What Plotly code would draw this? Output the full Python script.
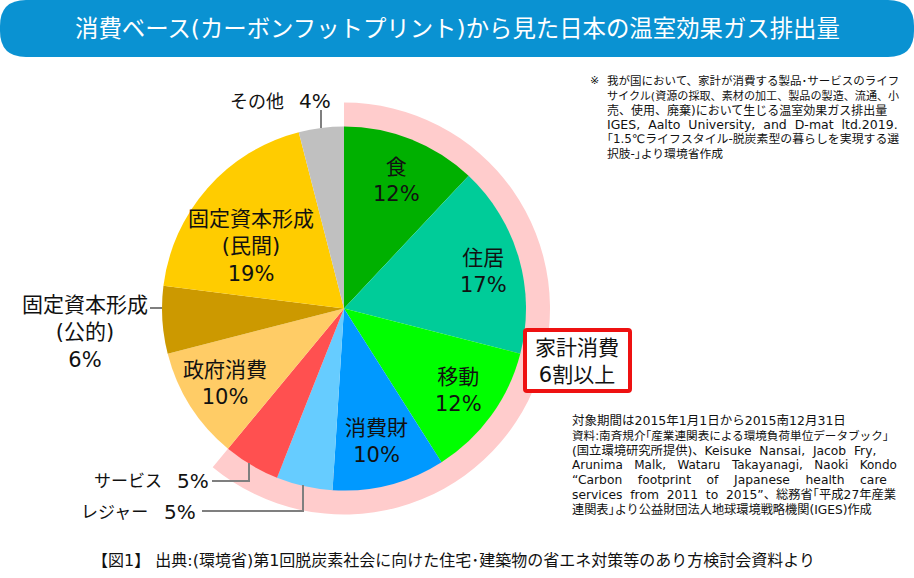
import plotly.graph_objects as go

W, H = 914, 578
FONT = "DejaVu Sans, Noto Sans CJK JP"

categories = ["食", "住居", "移動", "消費財", "レジャー", "サービス", "政府消費",
              "固定資本形成(公的)", "固定資本形成(民間)", "その他"]
shares = [12, 17, 12, 10, 5, 5, 10, 6, 19, 4]
slice_colors = ["#00b000", "#00cc99", "#00ff00", "#0099ff", "#66ccff", "#ff5050",
                "#ffcc66", "#cc9900", "#ffcc00", "#c0c0c0"]

ring_labels = ["家計消費", "それ以外"]
ring_shares = [61, 39]

title_text = "消費ベース(カーボンフットプリント)から見た日本の温室効果ガス排出量"
note_lines = [
    "我が国において、家計が消費する製品･サービスのライフ",
    "サイクル(資源の採取、素材の加工、製品の製造、流通、小",
    "売、使用、廃棄)において生じる温室効果ガス排出量",
    "IGES,  Aalto  University,  and  D-mat  ltd.2019.",
    "｢1.5℃ライフスタイル-脱炭素型の暮らしを実現する選",
    "択肢-｣より環境省作成",
]
source_lines = [
    "対象期間は2015年1月1日から2015南12月31日",
    "資料:南斉規介｢産業連関表による環境負荷単位データブック｣",
    "(国立環境研究所提供)、Keisuke  Nansai,  Jacob  Fry,",
    "Arunima   Malk,   Wataru   Takayanagi,   Naoki   Kondo",
    "“Carbon    footprint    of    Japanese    health    care",
    "services  from  2011  to  2015”、総務省｢平成27年産業",
    "連関表｣より公益財団法人地球環境戦略機関(IGES)作成",
]
caption = "【図1】 出典:(環境省)第1回脱炭素社会に向けた住宅･建築物の省エネ対策等のあり方検討会資料より"

# the original text block is justified, so each line gets its own font size
note_sizes = [11.5, 11.1, 12, 12.5, 11.9, 11.8]
source_sizes = [12.5, 11.6, 12.3, 12, 12.3, 12.3, 12.2]


def px(x):
    return x / W


def py(y):
    return 1 - y / H


def domain(cx, cy, r):
    return dict(x=[px(cx - r), px(cx + r)], y=[py(cy + r), py(cy - r)])


def label(x, y, text, size=21, color="#111111", anchor="center"):
    return dict(x=px(x), y=py(y), xref="paper", yref="paper", text=text, showarrow=False,
                xanchor=anchor, yanchor="middle", align=anchor,
                font=dict(family=FONT, size=size, color=color))


def line(points):
    path = "M " + " L ".join(f"{px(a)} {py(b)}" for a, b in points)
    return dict(type="path", path=path, xref="paper", yref="paper",
                line=dict(color="#7f7f7f", width=2))


def rounded(x0, y0, x1, y1, r):
    a, b, c, d = px(x0), py(y0), px(x1), py(y1)
    rx, ry = r / W, r / H
    return (f"M {a + rx} {b} L {c - rx} {b} Q {c} {b} {c} {b - ry} L {c} {d + ry} Q {c} {d} {c - rx} {d} "
            f"L {a + rx} {d} Q {a} {d} {a} {d + ry} L {a} {b - ry} Q {a} {b} {a + rx} {b} Z")


fig = go.Figure()

fig.add_trace(go.Pie(
    labels=ring_labels, values=ring_shares, sort=False, direction="clockwise", rotation=0,
    domain=domain(344, 308.5, 206), hole=0.8,
    marker=dict(colors=["#ffcccc", "rgba(0,0,0,0)"], line=dict(width=0)),
    textinfo="none", hoverinfo="label+percent", showlegend=False,
))
fig.add_trace(go.Pie(
    labels=categories, values=shares, sort=False, direction="clockwise", rotation=0,
    domain=domain(344, 308.5, 182),
    marker=dict(colors=slice_colors, line=dict(width=0)),
    textinfo="none", hoverinfo="label+percent", showlegend=False,
))

annotations = [
    label(457, 29, title_text, size=23.4, color="white"),
    label(396, 180, f"食<br>{shares[0]}%"),
    label(483, 271, f"住居<br>{shares[1]}%"),
    label(459, 390, f"移動<br>{shares[2]}%"),
    label(376, 441, f"消費財<br>{shares[3]}%"),
    label(225, 383, f"政府消費<br>{shares[6]}%"),
    label(251, 246, f"固定資本形成<br>(民間)<br>{shares[8]}%"),
    label(85, 332, f"固定資本形成<br>(公的)<br>{shares[7]}%"),
    label(257, 101, "その他", size=18),
    label(315, 101, f"{shares[9]}%", size=20),
    label(128, 481, "サービス", size=17),
    label(193, 481, f"{shares[5]}%", size=20),
    label(115, 512, "レジャー", size=17),
    label(180, 512, f"{shares[4]}%", size=20),
    label(577, 361, "家計消費<br>6割以上"),
    label(594, 80, "※", size=11),
    label(453, 560, caption, size=16),
]
for i, t in enumerate(note_lines):
    annotations.append(label(605, 81 + i * 14.6, t, size=note_sizes[i], anchor="left"))
for i, t in enumerate(source_lines):
    annotations.append(label(570, 421 + i * 14.7, t, size=source_sizes[i], anchor="left"))

shapes = [
    dict(type="path", path=rounded(0, 0, 914, 57, 26), xref="paper", yref="paper",
         fillcolor="#0a92d2", line=dict(width=0)),
    dict(type="path", path=rounded(525, 330, 630, 391, 2), xref="paper", yref="paper",
         fillcolor="white", line=dict(color="#ee1111", width=4)),
    line([(321, 110), (321, 128)]),
    line([(150, 308), (162, 308)]),
    line([(212, 481), (249, 481), (249, 463)]),
    line([(202, 511), (303, 511), (303, 485)]),
]

fig.update_layout(
    width=W, height=H, margin=dict(l=0, r=0, t=0, b=0),
    paper_bgcolor="white", plot_bgcolor="white",
    annotations=annotations, shapes=shapes,
)

fig.write_html("out.html", config=dict(displayModeBar=False),
               post_script="document.body.style.margin='0';document.documentElement.style.overflow='hidden';")
